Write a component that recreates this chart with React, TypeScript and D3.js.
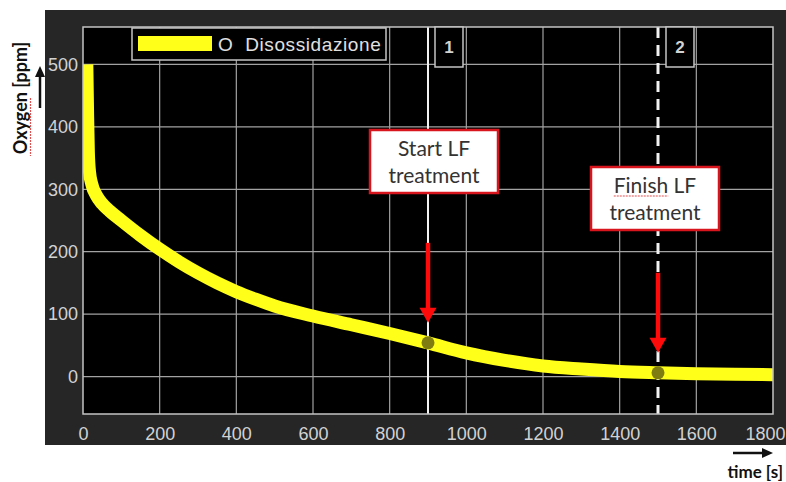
import React, { useEffect, useRef } from 'react';
import * as d3 from 'd3';

// values
const timeS = [10, 12, 14, 17, 23, 35, 50, 70, 100, 150, 200, 250, 300, 350, 400, 450, 500, 600, 700, 800, 900, 1000, 1100, 1200, 1300, 1400, 1500, 1600, 1700, 1800];
const oxygenPpm = [500, 420, 360, 328, 308, 290, 277, 265, 250, 226, 204, 184, 166, 150, 136, 124, 113, 97, 83, 69, 54, 38, 26, 17, 12, 8, 6, 4.5, 3.5, 3];

const xTicks = [0, 200, 400, 600, 800, 1000, 1200, 1400, 1600, 1800];
const yTicks = [0, 100, 200, 300, 400, 500];

const eventTimes = [900, 1500];
const eventOxygen = [54, 6];
const eventLabels = ['1', '2'];
const eventNotes = [['Start LF', 'treatment'], ['Finish LF', 'treatment']];

const App = () => {
  const ref = useRef<SVGSVGElement>(null);

  useEffect(() => {
    const svg = d3.select(ref.current);
    svg.selectAll('*').remove();

    const W = 786;
    const H = 482;
    const plot = { left: 83, right: 773, top: 27, bottom: 414 };

    const x = d3.scaleLinear().domain([0, 1800]).range([plot.left, plot.right]);
    const y = d3.scaleLinear().domain([-60, 560]).range([plot.bottom, plot.top]);

    svg.append('rect').attr('width', W).attr('height', H).attr('fill', '#fff');
    // dark figure panel
    svg.append('rect')
      .attr('x', 45).attr('y', 10)
      .attr('width', W - 45).attr('height', 435)
      .attr('fill', '#262626');
    svg.append('rect')
      .attr('x', plot.left).attr('y', plot.top)
      .attr('width', plot.right - plot.left).attr('height', plot.bottom - plot.top)
      .attr('fill', '#000');

    svg.append('clipPath').attr('id', 'plot-clip')
      .append('rect')
      .attr('x', plot.left).attr('y', plot.top)
      .attr('width', plot.right - plot.left).attr('height', plot.bottom - plot.top);

    // grid
    const grid = svg.append('g').attr('stroke', '#a2a2a2').attr('stroke-width', 1.2);
    grid.selectAll('line.gx')
      .data(xTicks.slice(1, -1))
      .enter().append('line')
      .attr('x1', d => x(d)).attr('x2', d => x(d))
      .attr('y1', plot.top).attr('y2', plot.bottom);
    grid.selectAll('line.gy')
      .data(yTicks)
      .enter().append('line')
      .attr('x1', plot.left).attr('x2', plot.right)
      .attr('y1', d => y(d)).attr('y2', d => y(d));

    // event lines
    svg.append('line')
      .attr('x1', x(eventTimes[0])).attr('x2', x(eventTimes[0]))
      .attr('y1', plot.top).attr('y2', plot.bottom)
      .attr('stroke', '#f2f2f2').attr('stroke-width', 2);
    svg.append('line')
      .attr('x1', x(eventTimes[1])).attr('x2', x(eventTimes[1]))
      .attr('y1', plot.top).attr('y2', plot.bottom)
      .attr('stroke', '#f2f2f2').attr('stroke-width', 3)
      .attr('stroke-dasharray', '11,7');

    // oxygen curve
    const line = d3.line<number>()
      .x((d, i) => x(timeS[i]))
      .y(d => y(d))
      .curve(d3.curveMonotoneX);
    svg.append('path')
      .datum(oxygenPpm)
      .attr('clip-path', 'url(#plot-clip)')
      .attr('d', line)
      .attr('fill', 'none')
      .attr('stroke', '#ffff1a')
      .attr('stroke-width', 13);

    svg.selectAll('circle.ev')
      .data(eventTimes)
      .enter().append('circle')
      .attr('cx', d => x(d))
      .attr('cy', (d, i) => y(eventOxygen[i]))
      .attr('r', 6.5)
      .attr('fill', '#7f7c12');

    // axes box
    svg.append('rect')
      .attr('x', plot.left).attr('y', plot.top)
      .attr('width', plot.right - plot.left).attr('height', plot.bottom - plot.top)
      .attr('fill', 'none').attr('stroke', '#c4c4c4').attr('stroke-width', 1.5);

    const yAxis = svg.append('g')
      .attr('transform', `translate(${plot.left},0)`)
      .call(d3.axisLeft(y).tickValues(yTicks).tickSize(0).tickPadding(5));
    const xAxis = svg.append('g')
      .attr('transform', `translate(0,${plot.bottom})`)
      .call(d3.axisBottom(x).tickValues(xTicks).tickSize(0).tickPadding(13).tickFormat(d3.format('d')));
    [yAxis, xAxis].forEach(g => {
      g.select('.domain').remove();
      g.selectAll('text')
        .attr('fill', '#d2d2d2')
        .style('font-family', '"Liberation Sans", Arial, sans-serif')
        .style('font-size', '18px');
    });
    // keep the last label inside the picture
    xAxis.selectAll('text')
      .filter(d => d === xTicks[xTicks.length - 1])
      .attr('text-anchor', 'end')
      .attr('dx', 12);

    // legend
    svg.append('rect')
      .attr('x', 132).attr('y', 28).attr('width', 254).attr('height', 32)
      .attr('fill', '#000').attr('stroke', '#c4c4c4').attr('stroke-width', 1.5);
    svg.append('rect')
      .attr('x', 138).attr('y', 36).attr('width', 74).attr('height', 15)
      .attr('fill', '#ffff1a');
    svg.append('text')
      .attr('x', 218).attr('y', 51)
      .attr('fill', '#e0e0e0')
      .style('white-space', 'pre')
      .style('font-family', '"Liberation Sans", Arial, sans-serif')
      .style('font-size', '19px')
      .style('letter-spacing', '0.6px')
      .text('O  Disossidazione');

    // numbered event tags
    eventTimes.forEach((t, i) => {
      const bx = x(t) + (i === 0 ? 7 : 8);
      svg.append('rect')
        .attr('x', bx).attr('y', plot.top).attr('width', 28).attr('height', 40)
        .attr('fill', '#000').attr('stroke', '#c4c4c4').attr('stroke-width', 1.5);
      svg.append('text')
        .attr('x', bx + 14).attr('y', 53)
        .attr('text-anchor', 'middle')
        .attr('fill', '#d2d2d2')
        .style('font-family', '"Liberation Sans", Arial, sans-serif')
        .style('font-size', '17px')
        .style('font-weight', 'bold')
        .text(eventLabels[i]);
    });

    // annotation boxes and red arrows
    const noteTop = [130, 167];
    const noteShift = [6, -3];
    const noteFont = 'Lato, "Open Sans", sans-serif';
    eventTimes.forEach((t, i) => {
      const cx = x(t) + noteShift[i];
      svg.append('rect')
        .attr('x', cx - 64).attr('y', noteTop[i]).attr('width', 128).attr('height', 63)
        .attr('fill', '#fff').attr('stroke', '#d8141c').attr('stroke-width', 2.5);
      const txt = svg.append('text')
        .attr('text-anchor', 'middle')
        .attr('fill', '#333')
        .style('font-family', noteFont)
        .style('font-size', '21px');
      eventNotes[i].forEach((s, k) => {
        txt.append('tspan')
          .attr('x', cx).attr('y', noteTop[i] + 26 + k * 27)
          .text(s);
      });
      if (i === 1) {
        // spell-check squiggle under "Finish"
        const full = (txt.select('tspan').node() as SVGTSpanElement).getComputedTextLength();
        const tmp = svg.append('text')
          .style('font-family', noteFont)
          .style('font-size', '21px')
          .text('Finish');
        const w = (tmp.node() as SVGTextElement).getComputedTextLength();
        tmp.remove();
        svg.append('line')
          .attr('x1', cx - full / 2).attr('x2', cx - full / 2 + w)
          .attr('y1', noteTop[i] + 29).attr('y2', noteTop[i] + 29)
          .attr('stroke', '#e05050').attr('stroke-width', 1.2)
          .attr('stroke-dasharray', '2,1');
      }

      const ax = x(t);
      const tip = y(eventOxygen[i]) - 20;
      svg.append('line')
        .attr('x1', ax).attr('x2', ax)
        .attr('y1', tip - 80).attr('y2', tip - 13)
        .attr('stroke', '#ff0a0a').attr('stroke-width', 4.5);
      svg.append('path')
        .attr('d', `M${ax - 8.5},${tip - 15}L${ax + 8.5},${tip - 15}L${ax},${tip}Z`)
        .attr('fill', '#ff0a0a');
    });

    // y axis title with arrow
    svg.append('text')
      .attr('transform', 'translate(27,98) rotate(-90)')
      .attr('text-anchor', 'middle')
      .attr('fill', '#111')
      .style('font-family', noteFont)
      .style('font-size', '18px')
      .style('font-weight', 'bold')
      .text('Oxygen [ppm]');
    svg.append('line')
      .attr('x1', 30.5).attr('x2', 30.5).attr('y1', 98).attr('y2', 156)
      .attr('stroke', '#e05050').attr('stroke-width', 1.2)
      .attr('stroke-dasharray', '2,1');
    svg.append('line')
      .attr('x1', 40).attr('x2', 40).attr('y1', 108).attr('y2', 75)
      .attr('stroke', '#111').attr('stroke-width', 2.5);
    svg.append('path')
      .attr('d', 'M35,77L45,77L40,66Z')
      .attr('fill', '#111');

    // x axis title with arrow
    svg.append('line')
      .attr('x1', 733).attr('x2', 764).attr('y1', 453).attr('y2', 453)
      .attr('stroke', '#111').attr('stroke-width', 2.5);
    svg.append('path')
      .attr('d', 'M762,448L762,458L773,453Z')
      .attr('fill', '#111');
    svg.append('text')
      .attr('x', 783).attr('y', 478)
      .attr('text-anchor', 'end')
      .attr('fill', '#111')
      .style('font-family', noteFont)
      .style('font-size', '17px')
      .style('font-weight', 'bold')
      .text('time [s]');
  }, []);

  return (
    <svg
      ref={ref}
      width={786}
      height={482}
      style={{ position: 'absolute', left: 0, top: 0 }}
    />
  );
};

export default App;
